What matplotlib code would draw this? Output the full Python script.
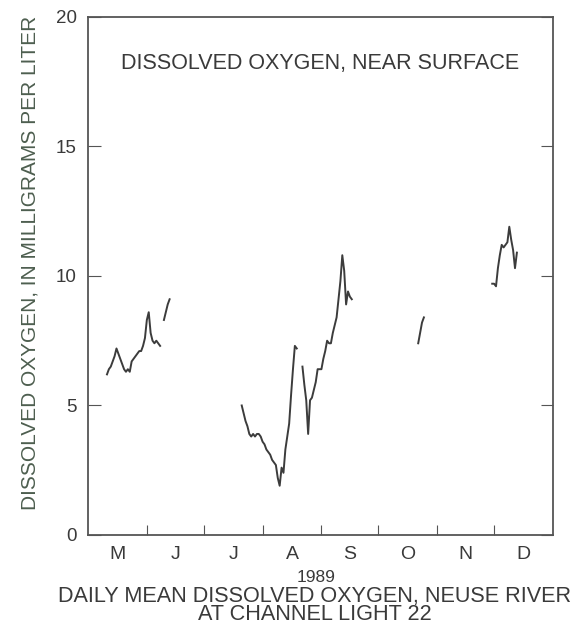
import numpy as np
import matplotlib
matplotlib.use('Agg')
import matplotlib.pyplot as plt

plt.rcParams['font.family'] = ['Liberation Sans', 'DejaVu Sans']

# days counted from May 1, 1989
seg1_days = np.arange(10, 39)
seg1_do = [6.2, 6.4, 6.5, 6.7, 6.9, 7.2, 7.0, 6.8, 6.6, 6.4, 6.3, 6.4, 6.3, 6.7,
           6.8, 6.9, 7.0, 7.1, 7.1, 7.3, 7.6, 8.3, 8.6, 7.8, 7.5, 7.4, 7.5, 7.4, 7.3]
seg2_days = np.arange(40, 44)
seg2_do = [8.3, 8.6, 8.9, 9.1]
seg3_days = np.arange(81, 111)
seg3_do = [5.0, 4.7, 4.4, 4.2, 3.9, 3.8, 3.9, 3.8, 3.9, 3.9, 3.8, 3.6, 3.5, 3.3,
           3.2, 3.1, 2.9, 2.8, 2.7, 2.2, 1.9, 2.6, 2.4, 3.3, 3.8, 4.3, 5.4, 6.4,
           7.3, 7.2]
seg4_days = np.arange(113, 140)
seg4_do = [6.5, 5.8, 5.2, 3.9, 5.2, 5.3, 5.6, 5.9, 6.4, 6.4, 6.4, 6.8, 7.1, 7.5,
           7.4, 7.4, 7.8, 8.1, 8.4, 9.1, 9.8, 10.8, 10.2, 8.9, 9.4, 9.2, 9.1]
seg5_days = np.arange(174, 178)
seg5_do = [7.4, 7.8, 8.2, 8.4]
seg6_days = np.arange(213, 227)
seg6_do = [9.7, 9.7, 9.6, 10.3, 10.8, 11.2, 11.1, 11.2, 11.3, 11.9, 11.4, 11.0,
           10.3, 10.9]

month_starts = [31, 61, 92, 123, 153, 184, 214]
month_mids = [15.5, 46, 76.5, 107.5, 138, 168.5, 199, 229.5]
month_labels = ['M', 'J', 'J', 'A', 'S', 'O', 'N', 'D']

txt = '#3a3a3a'
fig = plt.figure(figsize=(5.79, 6.26), dpi=100)
ax = fig.add_axes([0.152, 0.1454, 0.803, 0.8276])

for d, v in [(seg1_days, seg1_do), (seg2_days, seg2_do), (seg3_days, seg3_do),
             (seg4_days, seg4_do), (seg5_days, seg5_do), (seg6_days, seg6_do)]:
    ax.plot(d, v, color='#3c3c3c', linewidth=1.4)

ax.set_xlim(0, 245)
ax.set_ylim(0, 20)
ax.set_xticks(month_starts)
ax.set_xticklabels([])
ax.set_xticks(month_mids, minor=True)
ax.set_xticklabels(month_labels, minor=True)
ax.tick_params(axis='x', which='major', direction='in', length=7, color='#555555')
ax.tick_params(axis='x', which='minor', length=0, pad=8, labelsize=14, labelcolor=txt)
ax.set_yticks([0, 5, 10, 15, 20])
ax.tick_params(axis='y', direction='in', length=9, right=True, pad=8,
               labelsize=13.5, labelcolor=txt, color='#555555')
for s in ax.spines.values():
    s.set_color('#555555')
    s.set_linewidth(1.3)

ax.set_ylabel('DISSOLVED OXYGEN, IN MILLIGRAMS PER LITER', fontsize=15,
              color='#4d5e4f')
ax.yaxis.set_label_coords(-0.105, 0.525)
ax.text(0.5, 0.91, 'DISSOLVED OXYGEN, NEAR SURFACE', transform=ax.transAxes,
        ha='center', va='center', fontsize=15.5, color=txt)

fig.text(0.546, 0.077, '1989', ha='center', va='center', fontsize=12.5, color=txt)
fig.text(0.543, 0.033, 'DAILY MEAN DISSOLVED OXYGEN, NEUSE RIVER\nAT CHANNEL LIGHT 22',
         ha='center', va='center', fontsize=15.6, color=txt, linespacing=0.82)

fig.savefig('out.png', dpi=100)
